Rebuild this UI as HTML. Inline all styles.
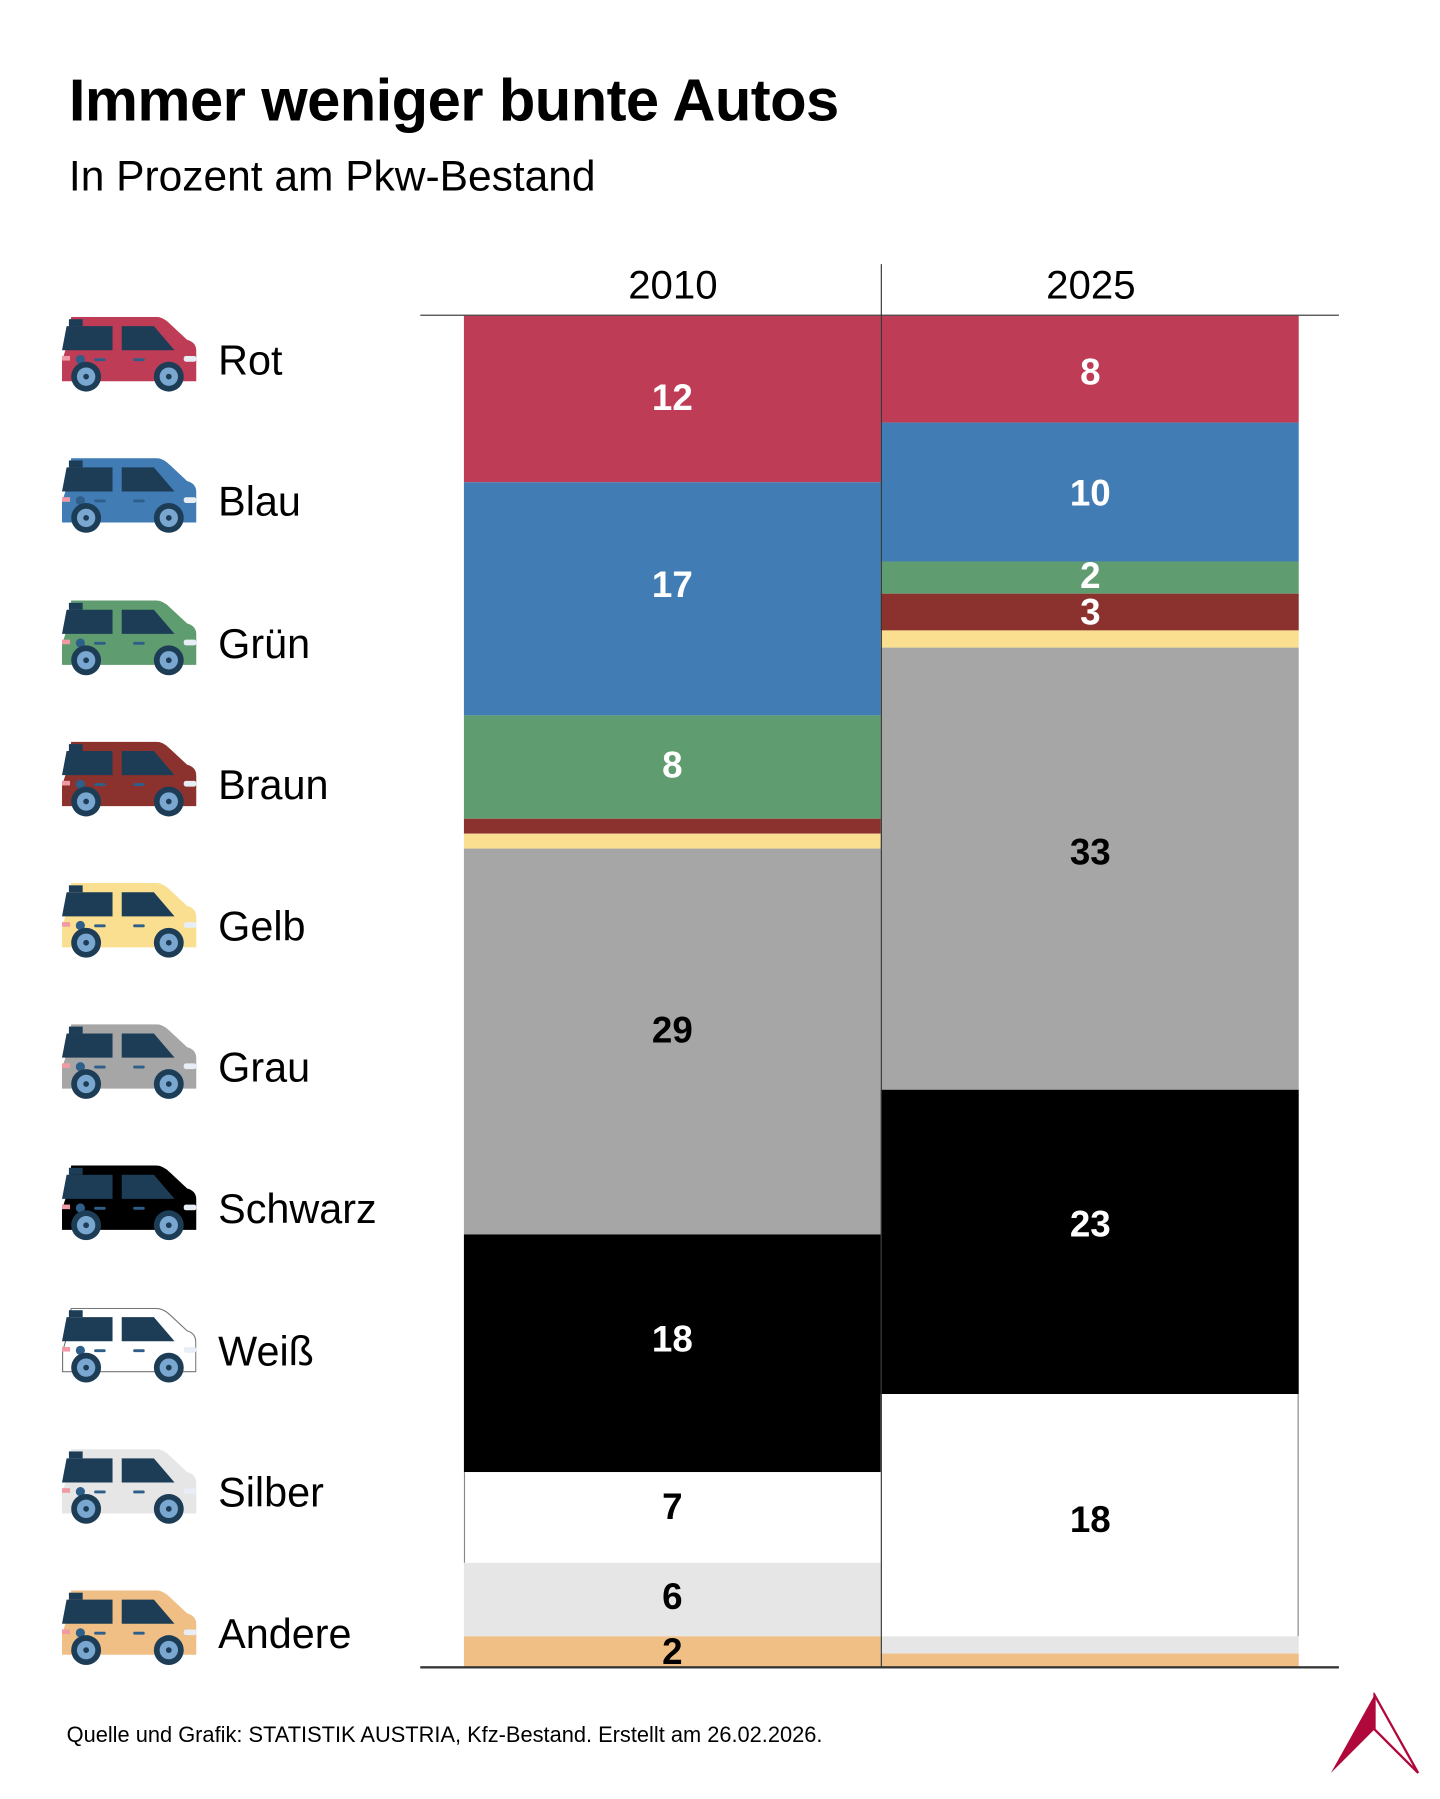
<!DOCTYPE html>
<html><head><meta charset="utf-8"><style>
html,body{margin:0;padding:0;background:#fff;width:1440px;height:1799px;overflow:hidden}
#w{position:absolute;left:0;top:0;width:1254px;height:1567px;transform:scale(1.1483);transform-origin:0 0;font-family:"Liberation Sans",sans-serif;color:#000}
.t{position:absolute;white-space:nowrap}
.b{position:absolute}
.n{position:absolute;width:363px;text-align:center;font-size:32px;font-weight:bold;line-height:1}
.lab{position:absolute;left:190px;font-size:36px;line-height:1}
.car{position:absolute;left:54px;width:117px;height:66px}
</style></head><body><div id="w">
<div class="t" style="left:60px;top:58px;font-size:52px;font-weight:bold;letter-spacing:-0.5px">Immer weniger bunte Autos</div>
<div class="t" style="left:60px;top:133px;font-size:37px">In Prozent am Pkw-Bestand</div>
<div class="t" style="left:531px;top:229px;font-size:35px;width:110px;text-align:center">2010</div>
<div class="t" style="left:895px;top:229px;font-size:35px;width:110px;text-align:center">2025</div>

<!-- 2010 -->
<div class="b" style="left:404px;width:363px;top:275px;height:145px;background:#be3c55"></div>
<div class="b" style="left:404px;width:363px;top:420px;height:203px;background:#417cb4"></div>
<div class="b" style="left:404px;width:363px;top:623px;height:90px;background:#5f9c6f"></div>
<div class="b" style="left:404px;width:363px;top:713px;height:13px;background:#8b322e"></div>
<div class="b" style="left:404px;width:363px;top:726px;height:13px;background:#f9df8f"></div>
<div class="b" style="left:404px;width:363px;top:739px;height:336px;background:#a6a6a6"></div>
<div class="b" style="left:404px;width:363px;top:1075px;height:207px;background:#000"></div>
<div class="b" style="left:404px;width:362px;top:1282px;height:79px;background:#fff;border-left:1px solid #888"></div>
<div class="b" style="left:404px;width:363px;top:1361px;height:64px;background:#e6e6e6"></div>
<div class="b" style="left:404px;width:363px;top:1425px;height:27px;background:#f0bf85"></div>
<!-- 2025 -->
<div class="b" style="left:767px;width:364px;top:275px;height:93px;background:#be3c55"></div>
<div class="b" style="left:767px;width:364px;top:368px;height:121px;background:#417cb4"></div>
<div class="b" style="left:767px;width:364px;top:489px;height:28px;background:#5f9c6f"></div>
<div class="b" style="left:767px;width:364px;top:517px;height:32px;background:#8b322e"></div>
<div class="b" style="left:767px;width:364px;top:549px;height:15px;background:#f9df8f"></div>
<div class="b" style="left:767px;width:364px;top:564px;height:385px;background:#a6a6a6"></div>
<div class="b" style="left:767px;width:364px;top:949px;height:265px;background:#000"></div>
<div class="b" style="left:767px;width:363px;top:1214px;height:211px;background:#fff;border-right:1px solid #888"></div>
<div class="b" style="left:767px;width:364px;top:1425px;height:15px;background:#e6e6e6"></div>
<div class="b" style="left:767px;width:364px;top:1440px;height:12px;background:#f0bf85"></div>

<!-- axes -->
<div class="b" style="left:366px;width:800px;top:274px;height:1px;background:#333"></div>
<div class="b" style="left:366px;width:800px;top:1451px;height:2px;background:#333"></div>
<div class="b" style="left:767px;width:1px;top:230px;height:1222px;background:#333"></div>

<!-- numbers 2010 -->
<div class="n" style="left:404px;top:330px;color:#fff">12</div>
<div class="n" style="left:404px;top:493px;color:#fff">17</div>
<div class="n" style="left:404px;top:650px;color:#fff">8</div>
<div class="n" style="left:404px;top:881px">29</div>
<div class="n" style="left:404px;top:1150px;color:#fff">18</div>
<div class="n" style="left:404px;top:1296px">7</div>
<div class="n" style="left:404px;top:1374px">6</div>
<div class="n" style="left:404px;top:1422px">2</div>
<!-- numbers 2025 -->
<div class="n" style="left:768px;top:308px;color:#fff">8</div>
<div class="n" style="left:768px;top:413px;color:#fff">10</div>
<div class="n" style="left:768px;top:485px;color:#fff">2</div>
<div class="n" style="left:768px;top:517px;color:#fff">3</div>
<div class="n" style="left:768px;top:726px">33</div>
<div class="n" style="left:768px;top:1050px;color:#fff">23</div>
<div class="n" style="left:768px;top:1307px">18</div>

<!-- legend -->
<svg width="0" height="0" style="position:absolute"><defs>
<g id="cw">
<path d="M4,8 L44,8 L44,29 L0,29 Z" fill="#1d3d57"/>
<path d="M52,8 L80,8 L98,29 L52,29 Z" fill="#1d3d57"/>
<rect x="6" y="2" width="12" height="6" fill="#1d3d57"/>
<rect x="0" y="34" width="7" height="4" fill="#f19aa5"/>
<circle cx="16" cy="37" r="4" fill="#2d5f8a"/>
<rect x="28" y="36" width="10" height="2.5" rx="1" fill="#2d5f8a"/>
<rect x="62" y="36" width="10" height="2.5" rx="1" fill="#2d5f8a"/>
<rect x="106" y="34" width="11" height="5" rx="2" fill="#e8eef5"/>
<circle cx="21" cy="52" r="13" fill="#1d3d57"/><circle cx="21" cy="52" r="8" fill="#7aa7d0"/><circle cx="21" cy="52" r="2.5" fill="#1d3d57"/>
<circle cx="93" cy="52" r="13" fill="#1d3d57"/><circle cx="93" cy="52" r="8" fill="#7aa7d0"/><circle cx="93" cy="52" r="2.5" fill="#1d3d57"/>
</g></defs></svg>
<svg class="car" style="top:276px" viewBox="0 0 117 66"><path d="M8,0 L82,0 Q88,0 94,6 L109,20 Q117,22 117,30 L117,56 L0,56 L0,38 L4,26 Z" fill="#be3c55"/><use href="#cw"/></svg>
<div class="lab" style="top:296px">Rot</div>
<svg class="car" style="top:399px" viewBox="0 0 117 66"><path d="M8,0 L82,0 Q88,0 94,6 L109,20 Q117,22 117,30 L117,56 L0,56 L0,38 L4,26 Z" fill="#417cb4"/><use href="#cw"/></svg>
<div class="lab" style="top:419px">Blau</div>
<svg class="car" style="top:523px" viewBox="0 0 117 66"><path d="M8,0 L82,0 Q88,0 94,6 L109,20 Q117,22 117,30 L117,56 L0,56 L0,38 L4,26 Z" fill="#5f9c6f"/><use href="#cw"/></svg>
<div class="lab" style="top:543px">Grün</div>
<svg class="car" style="top:646px" viewBox="0 0 117 66"><path d="M8,0 L82,0 Q88,0 94,6 L109,20 Q117,22 117,30 L117,56 L0,56 L0,38 L4,26 Z" fill="#8b322e"/><use href="#cw"/></svg>
<div class="lab" style="top:666px">Braun</div>
<svg class="car" style="top:769px" viewBox="0 0 117 66"><path d="M8,0 L82,0 Q88,0 94,6 L109,20 Q117,22 117,30 L117,56 L0,56 L0,38 L4,26 Z" fill="#f9df8f"/><use href="#cw"/></svg>
<div class="lab" style="top:789px">Gelb</div>
<svg class="car" style="top:892px" viewBox="0 0 117 66"><path d="M8,0 L82,0 Q88,0 94,6 L109,20 Q117,22 117,30 L117,56 L0,56 L0,38 L4,26 Z" fill="#a6a6a6"/><use href="#cw"/></svg>
<div class="lab" style="top:912px">Grau</div>
<svg class="car" style="top:1015px" viewBox="0 0 117 66"><path d="M8,0 L82,0 Q88,0 94,6 L109,20 Q117,22 117,30 L117,56 L0,56 L0,38 L4,26 Z" fill="#000"/><use href="#cw"/></svg>
<div class="lab" style="top:1035px">Schwarz</div>
<svg class="car" style="top:1139px" viewBox="0 0 117 66"><path d="M8,0.5 L82,0.5 Q88,0.5 94,6 L109,20 Q116.5,22 116.5,30 L116.5,55.5 L0.5,55.5 L0.5,38 L4,26 Z" fill="#fff" stroke="#777" stroke-width="1"/><use href="#cw"/></svg>
<div class="lab" style="top:1159px">Weiß</div>
<svg class="car" style="top:1262px" viewBox="0 0 117 66"><path d="M8,0 L82,0 Q88,0 94,6 L109,20 Q117,22 117,30 L117,56 L0,56 L0,38 L4,26 Z" fill="#e6e6e6"/><use href="#cw"/></svg>
<div class="lab" style="top:1282px">Silber</div>
<svg class="car" style="top:1385px" viewBox="0 0 117 66"><path d="M8,0 L82,0 Q88,0 94,6 L109,20 Q117,22 117,30 L117,56 L0,56 L0,38 L4,26 Z" fill="#f0bf85"/><use href="#cw"/></svg>
<div class="lab" style="top:1405px">Andere</div>

<div class="t" style="left:58px;top:1501px;font-size:19px">Quelle und Grafik: STATISTIK AUSTRIA, Kfz-Bestand. Erstellt am 26.02.2026.</div>
<svg style="position:absolute;left:1155px;top:1474px" width="85" height="72" viewBox="0 0 85 72">
<polygon points="42,2 4,70 42,32" fill="#b0083a"/>
<polygon points="42,2 80,70 42,32" fill="none" stroke="#b0083a" stroke-width="2"/>
</svg>
</div></body></html>
